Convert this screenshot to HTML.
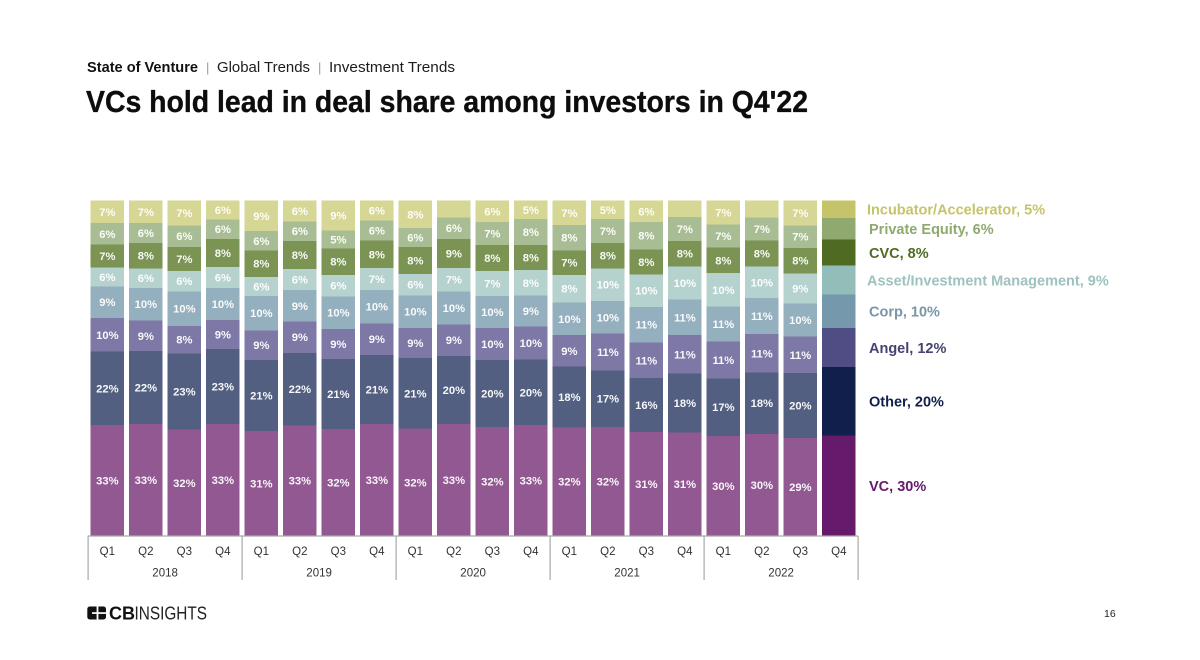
<!DOCTYPE html>
<html lang="en">
<head>
<meta charset="utf-8">
<title>VCs hold lead in deal share among investors in Q4'22</title>
<style>
html,body{margin:0;padding:0;background:#fff;}
body{width:1200px;height:660px;overflow:hidden;}
svg{display:block;font-family:"Liberation Sans",sans-serif;}
</style>
</head>
<body>
<svg id="slide" xmlns="http://www.w3.org/2000/svg" width="1200" height="660" viewBox="0 0 1200 660">
  <rect width="1200" height="660" fill="#ffffff"/>
  <g font-size="14.5" fill="#1c1c1c">
    <text x="87" y="72" font-weight="700" textLength="111" lengthAdjust="spacingAndGlyphs" fill="#111">State of Venture</text>
    <text x="206" y="72" fill="#999" font-size="13">|</text>
    <text x="217" y="72" textLength="93" lengthAdjust="spacingAndGlyphs">Global Trends</text>
    <text x="318" y="72" fill="#999" font-size="13">|</text>
    <text x="329" y="72" textLength="126" lengthAdjust="spacingAndGlyphs">Investment Trends</text>
  </g>
  <text x="86" y="112" font-size="31" font-weight="700" fill="#0d0d0d" stroke="#0d0d0d" stroke-width="0.35" textLength="722" lengthAdjust="spacingAndGlyphs">VCs hold lead in deal share among investors in Q4'22</text>
  <g id="bars"></g>
  <g id="axis"></g>
  <g id="legend"></g>
  <g>
    <rect x="87.3" y="606.5" width="18.7" height="13" rx="2.5" fill="#111"/>
    <rect x="96.6" y="606" width="1.8" height="14" fill="#fff"/>
    <rect x="92" y="612.2" width="14.5" height="1.7" fill="#fff"/>
    <text x="109" y="619.3" font-size="18" font-weight="700" fill="#111" textLength="26" lengthAdjust="spacingAndGlyphs">CB</text>
    <text x="134.5" y="619.3" font-size="18" fill="#222" textLength="72.5" lengthAdjust="spacingAndGlyphs">INSIGHTS</text>
  </g>
  <text x="1104" y="617" font-size="10.5" fill="#222">16</text>
</svg>
<script>
// ---- chart data (percent share of deals, per quarter, 2018 Q1 → 2022 Q4) ----
const quarters = ["Q1","Q2","Q3","Q4","Q1","Q2","Q3","Q4","Q1","Q2","Q3","Q4","Q1","Q2","Q3","Q4","Q1","Q2","Q3","Q4"];
const years = ["2018","2019","2020","2021","2022"];
const vcValues = [33,33.4,31.7,33.4,31.3,33,31.9,33.4,32,33.4,32.4,33,32.3,32.4,31,30.9,29.8,30.4,29.2,30];
const otherValues = [21.9,21.7,22.8,22.5,21.2,21.6,20.9,20.5,21.1,20.3,20,19.5,18,16.8,16.1,17.6,17.2,18.2,19.5,20.4];
const angelValues = [10.1,9.2,8.2,8.6,8.8,9.4,8.9,9.4,9,9.3,9.5,9.8,9.4,10.9,10.7,11.4,10.9,11.4,10.8,11.6];
const corpValues = [9.3,9.7,10.2,9.6,10.3,9.3,9.8,9.9,9.7,9.9,9.6,9.3,9.6,9.7,10.6,10.6,10.5,10.7,9.9,10];
const assetMgmtValues = [5.7,5.8,6.2,6.2,5.7,6.4,6.4,6.5,6.4,7,7.4,7.5,8.3,9.7,9.7,9.9,9.9,9.5,9,8.7];
const cvcValues = [6.8,7.6,7.1,8.4,7.8,8.3,7.8,8.2,8,8.6,7.7,7.5,7.2,7.6,7.5,7.6,7.7,7.7,7.6,7.7];
const privateEquityValues = [6.4,5.9,6.4,5.8,5.8,5.8,5.4,6,5.6,6.4,6.8,7.8,7.6,7.1,8.1,7.1,6.8,6.8,6.7,6.4];
const incubatorValues = [6.7,6.7,7.4,5.6,9.1,6.2,8.9,5.9,8.2,5,6.4,5.4,7.2,5.4,6.4,4.9,7.1,5,7.4,5.2];
const seriesNames = ["VC","Other","Angel","Corp","Asset/Investment Management","CVC","Private Equity","Incubator/Accelerator"];
const legendValues = [30,20,12,10,9,8,6,5];
const unlabeledIncubatorQuarters = [9,15,17];

const seriesValues = [vcValues,otherValues,angelValues,corpValues,assetMgmtValues,cvcValues,privateEquityValues,incubatorValues];
const mutedColors = ["#925892","#535f80","#7d78a5","#94afbd","#b6d2cf","#7b9353","#a9bd94","#d6d695"];
const strongColors = ["#661a6b","#111f4d","#4f4d83","#7598ac","#93bdb9","#4f6b22","#8fa96e","#c6c46b"];
const legendColors = ["#661a6b","#111f4d","#45436f","#7a95a8","#9dc2bf","#4f6b22","#8fa96e","#c6c46b"];

const NS = "http://www.w3.org/2000/svg";
const plotTop = 200.7, plotBottom = 536, barStart = 90.7, barStep = 38.5, barWidth = 33.3;
const xScale = i => barStart + barStep * i;
const yScale = pct => plotBottom - pct * (plotBottom - plotTop) / 100;
const slug = s => s.toLowerCase().replace(/[^a-z0-9]+/g, "-");

function svgEl(tag, parent, attrs, text) {
  const el = document.createElementNS(NS, tag);
  for (const k in attrs) el.setAttribute(k, attrs[k]);
  if (text !== undefined) el.textContent = text;
  parent.appendChild(el);
  return el;
}

const barsGroup = document.getElementById("bars");
quarters.forEach((q, i) => {
  const isLatest = i === quarters.length - 1;
  const total = seriesValues.reduce((s, vals) => s + vals[i], 0);
  let cum = 0;
  const period = years[Math.floor(i / 4)] + "-" + q.toLowerCase();
  seriesValues.forEach((vals, s) => {
    const pct = vals[i] / total * 100;
    const y1 = yScale(cum);
    const y2 = yScale(cum + pct);
    const seg = svgEl("rect", barsGroup, {x: xScale(i), y: y2, width: barWidth, height: y1 - y2, fill: (isLatest ? strongColors : mutedColors)[s], "shape-rendering": "crispEdges"});
    
    
    const hideLabel = isLatest || (s === 7 && unlabeledIncubatorQuarters.includes(i));
    if (!hideLabel) {
      const lab = svgEl("text", barsGroup, {x: xScale(i) + barWidth / 2, y: (y1 + y2) / 2 + 4, "text-anchor": "middle", "font-size": 11.2, "font-weight": 700, fill: "#ffffff", "fill-opacity": 0.95}, Math.round(vals[i]) + "%");
      
      
    }
    cum += pct;
  });
});

const axisGroup = document.getElementById("axis");
const axisColor = "#a8a8a8";
const axisLine = svgEl("line", axisGroup, {x1: xScale(0) - 3, x2: xScale(19) + barWidth + 2.5, y1: 536, y2: 536, stroke: axisColor, "stroke-width": 1.2});


quarters.forEach((q, i) => {
  const t = svgEl("text", axisGroup, {x: xScale(i) + barWidth / 2, y: 555, "text-anchor": "middle", "font-size": 11.5, fill: "#333"}, q);
  
  
});
years.forEach((yr, k) => {
  const left = xScale(k * 4) - 2.6;
  const right = xScale(k * 4 + 4) - 2.6;
  const sep = svgEl("line", axisGroup, {x1: left, x2: left, y1: 536, y2: 580, stroke: axisColor, "stroke-width": 1.2});
  
  
  const t = svgEl("text", axisGroup, {x: (left + right) / 2, y: 576.5, "text-anchor": "middle", "font-size": 11.5, fill: "#333"}, yr);
  
  
  if (k === years.length - 1) {
    const end = svgEl("line", axisGroup, {x1: right, x2: right, y1: 536, y2: 580, stroke: axisColor, "stroke-width": 1.2});
    
    
  }
});

const legendGroup = document.getElementById("legend");
const latest = quarters.length - 1;
const latestTotal = seriesValues.reduce((s, vals) => s + vals[latest], 0);
let legendCum = 0;
seriesNames.forEach((name, s) => {
  const pct = seriesValues[s][latest] / latestTotal * 100;
  const midY = (yScale(legendCum) + yScale(legendCum + pct)) / 2;
  legendCum += pct;
  const longName = name.length > 15;
  const t = svgEl("text", legendGroup, {x: longName ? 867 : 869, y: midY + 5.3, "font-size": 14.5, "font-weight": 700, fill: legendColors[s]}, name + ", " + legendValues[s] + "%");
  
  
});
</script>
</body>
</html>
